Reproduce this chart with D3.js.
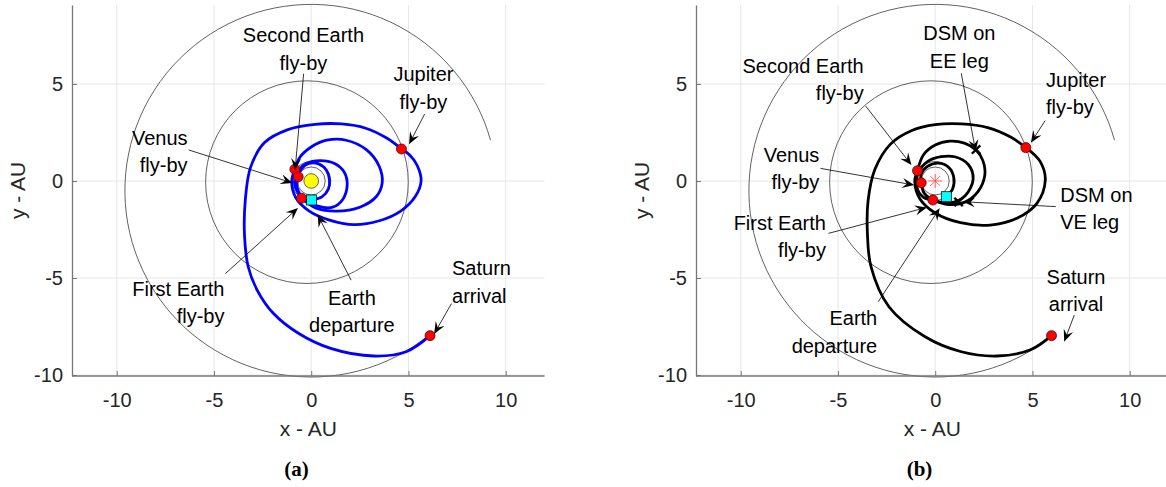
<!DOCTYPE html>
<html><head><meta charset="utf-8">
<script src="https://cdn.jsdelivr.net/npm/d3@7"></script>
<style>
body{margin:0;background:#fff}
svg{display:block}
text{font-family:"Liberation Sans",Arial,Helvetica,sans-serif}
</style>
</head><body>
<svg id="chart" width="1166" height="487"></svg>
<script>
// ---- axes ----
const xTicks = [-10, -5, 0, 5, 10];
const yTicks = [-10, -5, 0, 5];
const xDomain = [-12.3, 12.0];
const yDomain = [-10.05, 9.07];

// ---- planetary orbits: [cx, cy, r] in AU, arc angles in degrees (counter-clockwise) ----
const venusOrbit = [0, 0, 0.72];
const earthOrbit = [0, 0, 1.0];
const jupiterOrbit = [-0.22, -0.06, 5.21];
const saturnOrbit = [0, -0.5, 9.58];
const saturnArc = [15.7, 309.3];

// ---- (a) transfer legs, AU ----
const trajA_EV = [[0.02,-0.98],[0.55,-0.82],[0.88,-0.42],[0.94,0.05],[0.78,0.55],[0.38,0.88],[-0.12,0.9],[-0.5,0.62],[-0.67,0.22]];
const trajA_VE = [[-0.67,0.22],[-0.72,-0.35],[-0.35,-0.95],[0.35,-1.3],[1.1,-1.35],[1.62,-0.95],[1.85,-0.2],[1.7,0.45],[1.2,0.9],[0.45,1.05],[-0.25,0.9],[-0.72,0.45],[-0.85,-0.2],[-0.5,-0.89]];
const trajA_EE = [[-0.5,-0.89],[0.25,-1.4],[1.3,-1.55],[2.5,-1.35],[3.35,-0.8],[3.65,-0.1],[3.5,0.75],[2.85,1.6],[1.8,2.1],[0.8,2.1],[0,1.75],[-0.6,1.2],[-0.84,0.6]];
const trajA_EJ = [[-0.84,0.6],[-1.0,0.0],[-0.8,-0.85],[-0.1,-1.55],[0.9,-2.0],[2.2,-2.25],[3.5,-2.05],[4.6,-1.55],[5.35,-0.8],[5.65,0.0],[5.45,0.8],[5.05,1.35],[4.64,1.65]];
const trajA_JS = [[4.64,1.65],[3.9,2.2],[2.8,2.72],[1.56,2.94],[0.2,2.92],[-1.2,2.65],[-2.4,1.98],[-3.12,0.7],[-3.39,-1.0],[-3.43,-2.8],[-3.24,-4.42],[-2.78,-5.62],[-1.95,-6.82],[-0.66,-7.85],[1.0,-8.63],[3.22,-9.02],[4.88,-8.8],[6.11,-7.97]];

// ---- (b) transfer legs, AU ----
const trajB_EV = [[0.57,-0.81],[0.9,-0.4],[0.95,0.2],[0.7,0.7],[0.15,0.92],[-0.4,0.75],[-0.72,0.35],[-0.72,-0.09]];
const trajB_VE = [[-0.72,-0.09],[-0.55,-0.65],[0.1,-1.05],[0.9,-1.1],[1.55,-0.75],[1.95,0.1],[1.7,0.85],[1.0,1.25],[0.3,1.25],[-0.4,1.0],[-0.85,0.45],[-0.95,-0.3],[-0.6,-0.85],[-0.12,-0.98]];
const trajB_EE = [[-0.12,-0.98],[0.6,-1.2],[1.5,-1.1],[2.2,-0.55],[2.55,0.3],[2.45,1.05],[2.1,1.6],[1.5,1.95],[0.75,2.05],[0.0,1.85],[-0.6,1.35],[-0.91,0.53]];
const trajB_EJ = [[-0.91,0.53],[-1.05,0.0],[-0.8,-0.9],[0.0,-1.65],[1.3,-2.15],[2.83,-2.27],[4.2,-1.92],[5.23,-1.15],[5.66,0.05],[5.4,1.0],[4.66,1.72]];
const trajB_JS = [[4.66,1.72],[3.9,2.25],[2.7,2.75],[1.34,2.94],[0,2.9],[-1.2,2.6],[-2.3,1.9],[-3.1,0.6],[-3.45,-1.0],[-3.49,-2.6],[-3.3,-4.42],[-2.38,-6.48],[-0.52,-8.03],[1.34,-8.8],[3.19,-9.02],[4.9,-8.7],[5.98,-7.97]];

// ---- events: fly-bys (red), departure (cyan), deep-space manoeuvres ----
const flybysA = [[-0.84,0.6],[-0.67,0.22],[-0.5,-0.89],[4.64,1.65],[6.11,-7.97]];
const departureA = [0.02,-0.98];
const flybysB = [[-0.91,0.53],[-0.72,-0.09],[-0.12,-0.98],[4.66,1.72],[5.98,-7.97]];
const departureB = [0.57,-0.81];
const dsmB = [[2.1,1.62],[1.2,-1.08]];

// ---- annotations: text lines, anchor, text x, first baseline y, arrow tail and tip (AU) ----
const notesA = [
  {lines:["Second Earth","fly-by"], anchor:"middle", x:-0.4, y:7.16, from:[-0.39,5.53], to:[-0.83,0.55]},
  {lines:["Jupiter","fly-by"], anchor:"middle", x:5.77, y:5.15, from:[5.83,3.45], to:[5.03,1.89]},
  {lines:["Venus","fly-by"], anchor:"end", x:-6.36, y:1.86, from:[-6.3,1.6], to:[-0.96,-0.1]},
  {lines:["First Earth","fly-by"], anchor:"end", x:-4.46, y:-5.91, from:[-4.41,-4.77], to:[-0.68,-1.39]},
  {lines:["Earth","departure"], anchor:"middle", x:2.09, y:-6.39, from:[2.05,-5.11], to:[0.33,-1.74]},
  {lines:["Saturn","arrival"], anchor:"start", x:7.24, y:-4.87, from:[7.21,-6.32], to:[6.32,-7.88]}
];
const notesB = [
  {lines:["DSM on","EE leg"], anchor:"middle", x:1.24, y:7.25, from:[1.34,5.55], to:[2.08,1.51]},
  {lines:["Second Earth","fly-by"], anchor:"end", x:-3.68, y:5.57, from:[-3.58,3.87], to:[-1.22,0.82]},
  {lines:["Jupiter","fly-by"], anchor:"start", x:5.7, y:4.85, from:[5.65,3.11], to:[4.92,1.97]},
  {lines:["Venus","fly-by"], anchor:"end", x:-5.96, y:0.98, from:[-5.9,0.65], to:[-1.08,-0.21]},
  {lines:["First Earth","fly-by"], anchor:"end", x:-5.62, y:-2.51, from:[-5.49,-2.7], to:[-0.43,-1.36]},
  {lines:["DSM on","VE leg"], anchor:"start", x:6.43, y:-1.08, from:[6.2,-1.32], to:[1.43,-1.07]},
  {lines:["Earth","departure"], anchor:"end", x:-2.98, y:-7.44, from:[-2.93,-6.22], to:[0.23,-1.41]},
  {lines:["Saturn","arrival"], anchor:"middle", x:7.24, y:-5.29, from:[7.15,-6.91], to:[6.63,-8.28]}
];

const svg = d3.select("#chart");
svg.append("rect").attr("width",1166).attr("height",487).attr("fill","#fff");

function drawPanel(opt) {
  const x = d3.scaleLinear().domain(xDomain).range([opt.left, opt.left + 472.6]);
  const y = d3.scaleLinear().domain(yDomain).range([376, 5]);
  const k = x(1) - x(0);
  const g = svg.append("g");

  // grid
  g.append("g").selectAll("line").data(xTicks).join("line")
    .attr("x1", d => x(d)).attr("x2", d => x(d)).attr("y1", y.range()[0]).attr("y2", y.range()[1])
    .attr("stroke", "#e6e6e6").attr("stroke-width", 1);
  g.append("g").selectAll("line").data(yTicks).join("line")
    .attr("y1", d => y(d)).attr("y2", d => y(d)).attr("x1", x.range()[0]).attr("x2", x.range()[1])
    .attr("stroke", "#e6e6e6").attr("stroke-width", 1);

  // orbits
  const orbitG = g.append("g").attr("fill", "none").attr("stroke", "#3a3a3a").attr("stroke-width", 0.8);
  [venusOrbit, earthOrbit, jupiterOrbit].forEach(o => {
    orbitG.append("circle").attr("cx", x(o[0])).attr("cy", y(o[1])).attr("r", o[2] * k);
  });
  const p = d3.path();
  const a0 = -saturnArc[0] * Math.PI / 180, a1 = -saturnArc[1] * Math.PI / 180;
  p.arc(x(saturnOrbit[0]), y(saturnOrbit[1]), saturnOrbit[2] * k, a0, a1, true);
  orbitG.append("path").attr("d", p.toString());

  // trajectory
  const line = d3.line().x(d => x(d[0])).y(d => y(d[1])).curve(d3.curveCatmullRom.alpha(0.5));
  g.append("g").selectAll("path").data(opt.legs).join("path")
    .attr("d", line).attr("fill", "none").attr("stroke", opt.color)
    .attr("stroke-width", 2.8).attr("stroke-linejoin", "round");

  // sun
  if (opt.sun === "disc") {
    g.append("circle").attr("cx", x(0)).attr("cy", y(0)).attr("r", 7.3)
      .attr("fill", "#ffff00").attr("stroke", "#444").attr("stroke-width", 0.8);
  } else {
    const s = 7;
    const star = g.append("g").attr("stroke", "#ff5050").attr("stroke-width", 0.9)
      .attr("transform", `translate(${x(0)},${y(0)})`);
    [[s,0],[0,s],[s*0.7,s*0.7],[s*0.7,-s*0.7]].forEach(v =>
      star.append("line").attr("x1", -v[0]).attr("y1", -v[1]).attr("x2", v[0]).attr("y2", v[1]));
  }

  // DSM marks
  if (opt.dsm) {
    const dg = g.append("g").attr("stroke", "#000").attr("stroke-width", 2.4);
    opt.dsm.forEach(d => {
      const cx = x(d[0]), cy = y(d[1]), s = 4.2;
      dg.append("line").attr("x1", cx - s).attr("y1", cy - s).attr("x2", cx + s).attr("y2", cy + s);
      dg.append("line").attr("x1", cx - s).attr("y1", cy + s).attr("x2", cx + s).attr("y2", cy - s);
    });
  }

  // departure
  g.append("rect").attr("x", x(opt.departure[0]) - 5).attr("y", y(opt.departure[1]) - 5)
    .attr("width", 10).attr("height", 10).attr("fill", "#00ffff").attr("stroke", "#000").attr("stroke-width", 0.7);

  // fly-bys
  g.append("g").selectAll("circle").data(opt.flybys).join("circle")
    .attr("cx", d => x(d[0])).attr("cy", d => y(d[1])).attr("r", 5)
    .attr("fill", "#ff0000").attr("stroke", "#5a0000").attr("stroke-width", 0.8);

  // axes
  const ax = d3.axisBottom(x).tickValues(xTicks).tickSizeInner(-5).tickSizeOuter(0).tickPadding(17).tickFormat(d => String(d));
  const ay = d3.axisLeft(y).tickValues(yTicks).tickSizeInner(-5).tickSizeOuter(0).tickPadding(9).tickFormat(d => String(d));
  const gx = g.append("g").attr("transform", "translate(0,376)").call(ax);
  const gy = g.append("g").attr("transform", `translate(${opt.left},0)`).call(ay);
  [gx, gy].forEach(a => {
    a.select(".domain").attr("stroke", "#777").attr("stroke-width", 1.3);
    a.selectAll(".tick line").attr("stroke", "#777");
    a.selectAll(".tick text").attr("fill", "#262626").style("font-size", "20px")
      .style("font-family", '"Liberation Sans",Arial,sans-serif');
  });
  gx.select(".domain").attr("d", `M${x.range()[0]},0H${x.range()[1]}`);

  g.append("text").attr("x", (x.range()[0] + x.range()[1]) / 2).attr("y", 436)
    .attr("text-anchor", "middle").attr("fill", "#262626").style("font-size", "21px").text("x - AU");
  g.append("text").attr("transform", `translate(${opt.left - 47},190.5) rotate(-90)`)
    .attr("text-anchor", "middle").attr("fill", "#262626").style("font-size", "21px").text("y - AU");

  // annotations
  const ng = g.append("g");
  opt.notes.forEach(n => {
    const x1 = x(n.from[0]), y1 = y(n.from[1]), x2 = x(n.to[0]), y2 = y(n.to[1]);
    const ang = Math.atan2(y2 - y1, x2 - x1);
    const L = 12, W = 10;
    ng.append("line").attr("x1", x1).attr("y1", y1)
      .attr("x2", x2 - Math.cos(ang) * L * 0.6).attr("y2", y2 - Math.sin(ang) * L * 0.6)
      .attr("stroke", "#000").attr("stroke-width", 0.8);
    ng.append("path")
      .attr("d", `M0,0L${-L},${W / 2}L${-L * 0.62},0L${-L},${-W / 2}Z`)
      .attr("transform", `translate(${x2},${y2}) rotate(${ang * 180 / Math.PI})`)
      .attr("fill", "#000");
    const t = ng.append("text").attr("text-anchor", n.anchor).attr("fill", "#000").style("font-size", "20px");
    n.lines.forEach((s, i) => t.append("tspan").attr("x", x(n.x)).attr("y", y(n.y) + i * 27.5).text(s));
  });

  svg.append("text").attr("x", opt.labelX).attr("y", 476).attr("text-anchor", "middle")
    .style("font-family", '"Liberation Serif","Times New Roman",serif').style("font-weight", "bold")
    .style("font-size", "21px").attr("fill", "#000").text(opt.label);
}

drawPanel({left: 72, legs: [trajA_EV, trajA_VE, trajA_EE, trajA_EJ, trajA_JS], color: "#0000ff",
  sun: "disc", flybys: flybysA, departure: departureA, notes: notesA, label: "(a)", labelX: 296.5});
drawPanel({left: 696, legs: [trajB_EV, trajB_VE, trajB_EE, trajB_EJ, trajB_JS], color: "#000000",
  sun: "star", flybys: flybysB, departure: departureB, dsm: dsmB, notes: notesB, label: "(b)", labelX: 919.5});
</script>
</body></html>
